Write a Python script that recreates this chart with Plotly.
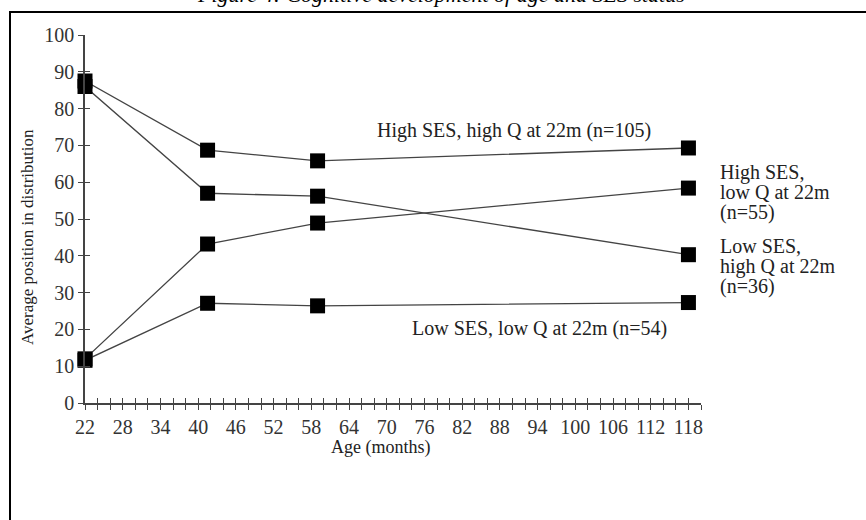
import plotly.graph_objects as go

W, H = 866, 520

ages = [22, 41.5, 59, 118]
high_ses_high_q = [87.5, 68.7, 65.8, 69.3]
low_ses_high_q = [86.0, 57.0, 56.2, 40.3]
high_ses_low_q = [12.0, 43.2, 48.9, 58.4]
low_ses_low_q = [11.6, 27.1, 26.4, 27.3]

series_names = [
    "High SES, high Q at 22m (n=105)",
    "Low SES, high Q at 22m (n=36)",
    "High SES, low Q at 22m (n=55)",
    "Low SES, low Q at 22m (n=54)",
]
series_values = [high_ses_high_q, low_ses_high_q, high_ses_low_q, low_ses_low_q]

x_tick_vals = list(range(22, 119, 6))
y_tick_vals = list(range(0, 101, 10))

FONT = "Liberation Serif, Times New Roman, serif"
AX = "#444444"

def px_x(p):
    return p / W

def px_y(p):
    return (H - p) / H

fig = go.Figure()
for name, vals in zip(series_names, series_values):
    fig.add_trace(go.Scatter(
        x=ages, y=vals, mode="lines+markers", name=name,
        line=dict(color="#444444", width=1.3),
        marker=dict(symbol="square", size=15, color="black"),
        showlegend=False, cliponaxis=False,
    ))

# invisible trace to anchor the overlay axes (crossing ticks)
fig.add_trace(go.Scatter(x=[22], y=[0], xaxis="x2", yaxis="y2",
                         mode="markers", marker=dict(opacity=0),
                         showlegend=False, hoverinfo="skip"))

xdom = [px_x(85), px_x(701)]
ydom = [px_y(403), px_y(35)]

common_x = dict(range=[22, 120], showgrid=False, zeroline=False,
                tickcolor=AX, ticklen=5, tickwidth=1.2,
                minor=dict(tick0=22, dtick=2, ticklen=5, tickwidth=1.2, tickcolor=AX))
common_y = dict(range=[0, 100], showgrid=False, zeroline=False,
                tickcolor=AX, ticklen=5, tickwidth=1.2)

fig.update_layout(
    width=W, height=H,
    margin=dict(l=0, r=0, t=0, b=0, autoexpand=False),
    paper_bgcolor="white", plot_bgcolor="white",
    xaxis=dict(domain=xdom, anchor="y", ticks="outside", showline=True,
               linecolor=AX, linewidth=1.5, tickvals=x_tick_vals,
               tickfont=dict(family=FONT, size=20, color="#333333"),
               **common_x),
    yaxis=dict(domain=ydom, anchor="x", ticks="outside", showline=True,
               linecolor=AX, linewidth=1.5, tickvals=y_tick_vals,
               tickfont=dict(family=FONT, size=20, color="#333333"),
               **common_y),
    xaxis2=dict(overlaying="x", anchor="y2", side="bottom", ticks="inside",
                tickvals=x_tick_vals, showticklabels=False, showline=False, **common_x),
    yaxis2=dict(overlaying="y", anchor="x2", side="left", ticks="inside",
                tickvals=y_tick_vals, showticklabels=False, showline=False, **common_y),
)
fig.layout.xaxis.minor.ticks = "outside"
fig.layout.xaxis2.minor.ticks = "inside"

ann = []
# figure caption, cut off by the top edge as in the source image
ann.append(dict(text="<i>Figure 4: Cognitive development of age and SES status</i>",
                x=px_x(441), y=(H + 6) / H, xref="paper", yref="paper",
                xanchor="center", yanchor="middle", showarrow=False,
                font=dict(family=FONT, size=22, color="black")))
ann.append(dict(text="Age (months)", x=px_x(380), y=px_y(447), xref="paper", yref="paper",
                xanchor="center", yanchor="middle", showarrow=False,
                font=dict(family=FONT, size=18, color="#222222")))
ann.append(dict(text="Average position in distribution", x=px_x(27), y=px_y(237),
                xref="paper", yref="paper", textangle=-90,
                xanchor="center", yanchor="middle", showarrow=False,
                font=dict(family=FONT, size=17, color="#222222")))
label_lines = [
    ("High SES, high Q at 22m (n=105)", 375, 130),
    ("High SES,", 718, 172),
    ("low Q at 22m", 718, 192),
    ("(n=55)", 718, 212),
    ("Low SES,", 718, 246),
    ("high Q at 22m", 718, 266),
    ("(n=36)", 718, 286),
    ("Low SES, low Q at 22m (n=54)", 410, 328),
]
for text, xp, yp in label_lines:
    ann.append(dict(text=text, x=px_x(xp), y=px_y(yp), xref="paper", yref="paper",
                    xanchor="left", yanchor="middle", align="left", showarrow=False,
                    font=dict(family=FONT, size=20, color="#222222")))
fig.update_layout(annotations=ann)

fig.add_shape(type="rect", xref="paper", yref="paper",
              x0=px_x(10), x1=1.2, y0=-0.2, y1=px_y(12),
              line=dict(color="black", width=2), fillcolor="rgba(0,0,0,0)")

fig.write_html("out.html")
